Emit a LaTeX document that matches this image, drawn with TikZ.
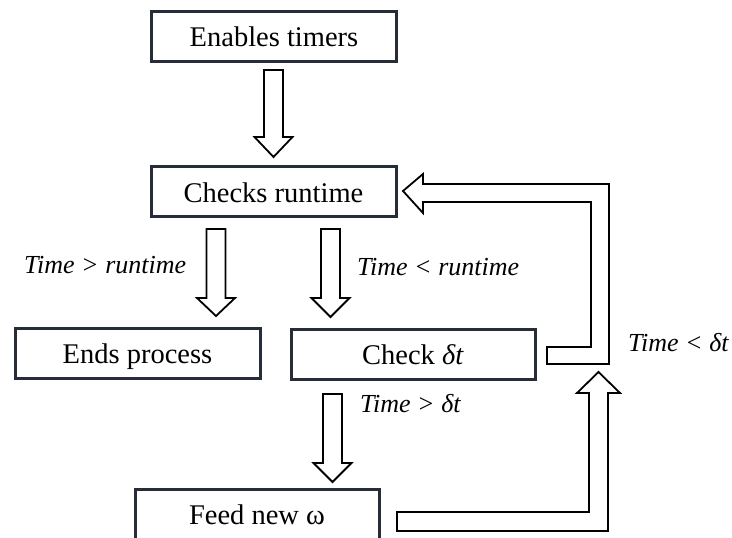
\documentclass[tikz,border=0pt]{standalone}
\usepackage{fontspec}
\setmainfont{Liberation Serif}
\begin{document}
\begin{tikzpicture}[x=1pt,y=-1pt,
  box/.style={draw=boxc, line width=3pt, minimum width=245pt, minimum height=50pt, inner sep=0pt, text height=21pt, text depth=0pt, font=\fontsize{28.5}{30}\selectfont},
  lbl/.style={inner sep=0pt, text height=18pt, text depth=0pt, font=\fontsize{26}{28}\selectfont\itshape},
  blockarrow/.style={draw=black, line width=1.8pt, fill=white, line join=miter}]
\definecolor{boxc}{RGB}{38,45,56}
\clip (0,0) rectangle (732,538);
\fill[white] (0,0) rectangle (732,538);
% boxes
\node[box] (enable) at (274,36) {Enables timers};
\node[box] (checks) at (273.5,191.5) {Checks runtime};
\node[box] (ends) at (137.5,353) {Ends process};
\node[box, minimum width=244pt] (checkdt) at (413,354) {Check \textit{δt}};
\node[box, minimum width=244pt] (feed) at (257,514) {Feed new ω};
% labels
\node[lbl, anchor=west] (l1) at (24,264) {Time > runtime};
\node[lbl, anchor=west] (l2) at (357,266) {Time < runtime};
\node[lbl, anchor=west] (l3) at (628,342) {Time < δt};
\node[lbl, anchor=west] (l4) at (360,403) {Time > δt};
% down block arrows
\newcommand{\dnarrow}[4]{% center x, top y, head start y, tip y
  \draw[blockarrow] ({#1-9.5},#2) -- ({#1+9.5},#2) -- ({#1+9.5},#3) -- ({#1+19},#3)
    -- (#1,#4) -- ({#1-19},#3) -- ({#1-9.5},#3) -- cycle;}
\dnarrow{273.5}{70}{137}{157}
\dnarrow{216}{229}{298}{316}
\dnarrow{330.5}{229}{298}{317}
\dnarrow{332.5}{394}{463}{482}
% loop back: Check dt -> Checks runtime
\draw[blockarrow] (403,191) -- (423,174) -- (423,184) -- (609,184) -- (609,364)
  -- (547,364) -- (547,347) -- (591,347) -- (591,202) -- (423,202) -- (423,213) -- cycle;
% Feed new omega -> up
\draw[blockarrow] (397,512) -- (589,512) -- (589,393) -- (577,393) -- (598.5,372)
  -- (620,393) -- (608,393) -- (608,531) -- (397,531) -- cycle;
\end{tikzpicture}
\end{document}
